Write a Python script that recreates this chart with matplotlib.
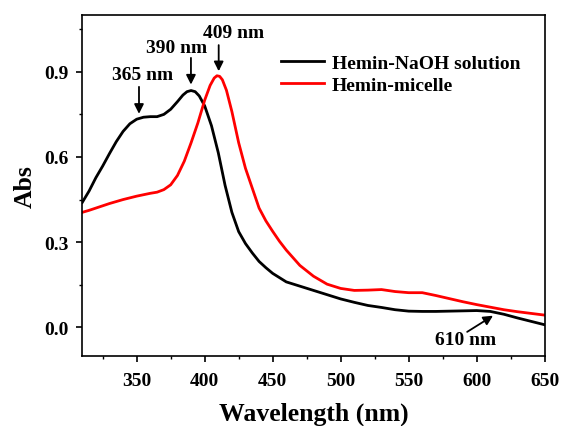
import matplotlib.pyplot as plt
from matplotlib.ticker import MultipleLocator

plt.rcParams['font.family'] = 'Liberation Serif'
plt.rcParams['font.weight'] = 'bold'

# Hemin-NaOH solution
wl_naoh = [310, 315, 320, 325, 330, 335, 340, 345, 350, 355, 360, 365, 370, 375,
           380, 384, 387, 390, 393, 396, 400, 405, 410, 415, 420, 425, 430, 435,
           440, 445, 450, 460, 470, 480, 490, 500, 510, 520, 530, 540, 550, 560,
           570, 580, 590, 600, 610, 620, 630, 640, 650]
abs_naoh = [0.44, 0.48, 0.527, 0.568, 0.612, 0.654, 0.69, 0.717, 0.733, 0.740,
            0.742, 0.742, 0.750, 0.768, 0.795, 0.818, 0.830, 0.834, 0.830, 0.815,
            0.78, 0.71, 0.615, 0.50, 0.405, 0.337, 0.295, 0.262, 0.232, 0.21,
            0.19, 0.160, 0.145, 0.13, 0.115, 0.10, 0.088, 0.077, 0.07, 0.062,
            0.057, 0.056, 0.056, 0.057, 0.058, 0.059, 0.056, 0.046, 0.033,
            0.021, 0.009]

# Hemin-micelle
wl_mic = [310, 315, 320, 325, 330, 335, 340, 345, 350, 355, 360, 365, 370, 375,
          380, 385, 390, 395, 400, 404, 407, 409, 411, 413, 416, 420, 425, 430,
          435, 440, 445, 450, 455, 460, 470, 480, 490, 500, 510, 520, 530, 540,
          550, 560, 570, 580, 590, 600, 610, 620, 630, 640, 650]
abs_mic = [0.405, 0.412, 0.42, 0.428, 0.436, 0.443, 0.45, 0.456, 0.462, 0.467,
           0.472, 0.476, 0.485, 0.502, 0.535, 0.585, 0.65, 0.72, 0.80, 0.852,
           0.878, 0.886, 0.884, 0.872, 0.835, 0.76, 0.65, 0.56, 0.49, 0.42,
           0.375, 0.338, 0.303, 0.272, 0.218, 0.18, 0.152, 0.137, 0.13, 0.131,
           0.133, 0.126, 0.122, 0.122, 0.112, 0.101, 0.09, 0.08, 0.071, 0.062,
           0.055, 0.049, 0.043]

# peak labels: text, text position, arrow tail, arrow tip
peak_labels = ['365 nm', '390 nm', '409 nm', '610 nm']
label_pos = [(354, 0.89), (379, 0.985), (421, 1.037), (592, -0.044)]
arrow_tail = [(351.7, 0.847), (389.9, 0.949), (410.3, 0.994), (593, -0.016)]
arrow_tip = [(351.7, 0.752), (389.9, 0.855), (410.3, 0.902), (612, 0.041)]

fig = plt.figure(figsize=(5.62, 4.27), dpi=100)
ax = fig.add_axes([0.1464, 0.1646, 0.8228, 0.7979])

ax.plot(wl_naoh, abs_naoh, color='black', lw=2.0, label='Hemin-NaOH solution')
ax.plot(wl_mic, abs_mic, color='#ff0000', lw=2.0, label='Hemin-micelle')

for txt, pos, tail, tip in zip(peak_labels, label_pos, arrow_tail, arrow_tip):
    ax.text(pos[0], pos[1], txt, fontsize=14, fontweight='bold',
            ha='center', va='center')
    ax.annotate('', xy=tip, xytext=tail,
                arrowprops=dict(arrowstyle='-|>', color='black', lw=1.3,
                                mutation_scale=14, shrinkA=0, shrinkB=0))

ax.set_xlim(310, 650)
ax.set_ylim(-0.1, 1.1)
ax.xaxis.set_major_locator(MultipleLocator(50))
ax.xaxis.set_minor_locator(MultipleLocator(25))
ax.yaxis.set_major_locator(MultipleLocator(0.3))
ax.yaxis.set_minor_locator(MultipleLocator(0.15))
ax.tick_params(which='major', direction='out', length=4.5, width=1.2,
               labelsize=14, pad=5)
ax.tick_params(which='minor', direction='out', length=2.5, width=1.0)
ax.tick_params(axis='x', which='major', pad=7)
for lab in ax.get_xticklabels() + ax.get_yticklabels():
    lab.set_fontweight('bold')
for s in ax.spines.values():
    s.set_linewidth(1.2)

ax.set_xlabel('Wavelength (nm)', fontsize=18.5, fontweight='bold', labelpad=9)
ax.set_ylabel('Abs', fontsize=18.5, fontweight='bold', labelpad=6)

ax.legend(loc='upper left', bbox_to_anchor=(0.43, 0.885), frameon=False,
          handlelength=2.2, handletextpad=0.4, labelspacing=0.25,
          borderpad=0, borderaxespad=0, prop={'weight': 'bold', 'size': 14})

fig.savefig('out.png', dpi=100)
